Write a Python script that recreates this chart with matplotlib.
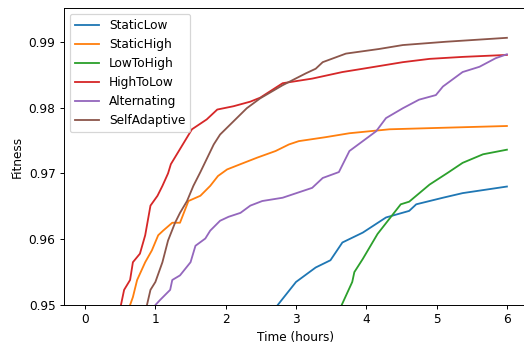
import matplotlib
matplotlib.use("Agg")
import matplotlib.pyplot as plt

names = ["StaticLow", "StaticHigh", "LowToHigh", "HighToLow", "Alternating", "SelfAdaptive"]

static_low_t = [2.70, 2.74, 3.0, 3.28, 3.49, 3.66, 3.95, 4.28, 4.61, 4.71, 5.09, 5.37, 6.0]
static_low_f = [0.9494, 0.95, 0.9535, 0.9557, 0.9568, 0.9595, 0.9610, 0.9633, 0.9643, 0.9653, 0.9663, 0.9670, 0.9680]

static_high_t = [0.62, 0.64, 0.68, 0.74, 0.855, 0.95, 1.04, 1.11, 1.24, 1.35, 1.47, 1.64, 1.78, 1.89, 2.02,
                 2.21, 2.45, 2.71, 2.90, 3.04, 3.42, 3.76, 4.33, 4.99, 6.0]
static_high_f = [0.9494, 0.95, 0.9512, 0.9538, 0.9565, 0.9583, 0.9606, 0.9613, 0.9625, 0.9625, 0.9658, 0.9666,
                 0.9681, 0.9696, 0.9706, 0.9714, 0.9724, 0.9734, 0.9744, 0.9749, 0.9755, 0.9761, 0.9767,
                 0.9769, 0.9772]

low_to_high_t = [3.62, 3.65, 3.80, 3.83, 3.95, 4.16, 4.27, 4.49, 4.61, 4.90, 5.16, 5.37, 5.66, 6.0]
low_to_high_f = [0.9494, 0.95, 0.9535, 0.955, 0.957, 0.9608, 0.9623, 0.9653, 0.9657, 0.9683, 0.9701, 0.9716,
                 0.9729, 0.9736]

high_to_low_t = [0.49, 0.51, 0.555, 0.64, 0.68, 0.78, 0.855, 0.93, 1.03, 1.10, 1.18, 1.22, 1.52, 1.73, 1.88,
                 2.11, 2.35, 2.49, 2.81, 3.23, 3.66, 3.95, 4.52, 4.90, 5.37, 6.0]
high_to_low_f = [0.9494, 0.95, 0.9523, 0.9538, 0.9565, 0.9578, 0.9606, 0.9651, 0.9666, 0.9681, 0.9700, 0.9714,
                 0.9767, 0.9782, 0.9797, 0.9802, 0.9809, 0.9815, 0.9837, 0.9844, 0.9854, 0.9859, 0.9869,
                 0.9874, 0.9877, 0.9880]

alternating_t = [0.98, 1.0, 1.07, 1.21, 1.24, 1.35, 1.50, 1.57, 1.71, 1.78, 1.92, 2.04, 2.21, 2.35, 2.52,
                 2.81, 3.23, 3.38, 3.61, 3.76, 3.95, 4.14, 4.28, 4.52, 4.75, 4.99, 5.09, 5.37, 5.61, 5.84, 6.0]
alternating_f = [0.9494, 0.95, 0.9508, 0.9523, 0.9538, 0.9545, 0.9565, 0.959, 0.9601, 0.9613, 0.9628, 0.9634,
                 0.964, 0.9651, 0.9658, 0.9663, 0.9678, 0.9693, 0.9702, 0.9734, 0.9749, 0.9764, 0.9784,
                 0.9799, 0.9812, 0.9819, 0.9832, 0.9854, 0.9862, 0.9875, 0.9881]

self_adaptive_t = [0.86, 0.88, 0.93, 1.0, 1.10, 1.18, 1.28, 1.35, 1.45, 1.54, 1.64, 1.83, 1.92, 2.11, 2.30,
                   2.49, 2.81, 3.14, 3.28, 3.38, 3.71, 4.18, 4.52, 5.13, 6.0]
self_adaptive_f = [0.9494, 0.95, 0.9523, 0.9535, 0.9565, 0.9598, 0.9625, 0.964, 0.9658, 0.9681, 0.9702,
                   0.9744, 0.9759, 0.9779, 0.9799, 0.9814, 0.9834, 0.9852, 0.9859, 0.9869, 0.9882, 0.9889,
                   0.9895, 0.9900, 0.9906]

series = [(static_low_t, static_low_f), (static_high_t, static_high_f), (low_to_high_t, low_to_high_f),
          (high_to_low_t, high_to_low_f), (alternating_t, alternating_f), (self_adaptive_t, self_adaptive_f)]
colors = ["#1f77b4", "#ff7f0e", "#2ca02c", "#d62728", "#9467bd", "#8c564b"]

dpi = 87.3
fig = plt.figure(figsize=(524 / dpi, 344 / dpi), dpi=dpi)
ax = fig.add_axes([64 / 524, 39 / 344, (528 - 64) / 524, (305 - 8) / 344])

for (t, f), name, c in zip(series, names, colors):
    ax.plot(t, f, color=c, lw=1.5, label=name)

ax.set_xlim(-0.3, 6.3)
ax.set_ylim(0.95, 0.99513)
ax.set_xticks([0, 1, 2, 3, 4, 5, 6])
ax.set_yticks([0.95, 0.96, 0.97, 0.98, 0.99])
ax.set_xlabel("Time (hours)")
ax.set_ylabel("Fitness")
ax.legend(loc="upper left")

fig.savefig("out.png", dpi=dpi)
